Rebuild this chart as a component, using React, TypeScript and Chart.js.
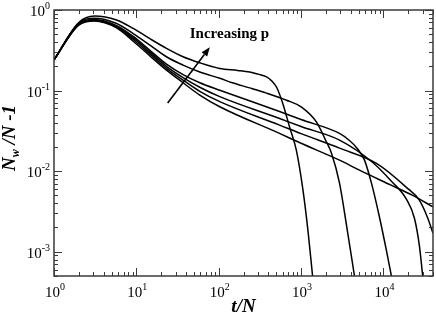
import React, { useEffect, useRef } from "react";
import { Chart, registerables } from "chart.js";

Chart.register(...registerables);

const X_MIN = 1;
const X_MAX = 40000;
const Y_MIN = 5e-4;
const Y_MAX = 1;

const X_MAJOR = [1, 10, 100, 1000, 10000];
const X_EXP = ["0", "1", "2", "3", "4"];
const Y_MAJOR = [1, 0.1, 0.01, 0.001];
const Y_EXP = ["0", "-1", "-2", "-3"];

const X_TITLE = "t/N";
const Y_TITLE_MAIN = "N";
const Y_TITLE_SUB = "w";
const Y_TITLE_REST = " /N -1";
const NOTE_TEXT = "Increasing p";
const NOTE_AT = [44.5, 0.45];
const ARROW_FROM = [24, 0.07];
const ARROW_TO = [78, 0.345];

const T_EARLY = [1, 2, 3.1, 5.75, 9.15, 14.6, 23.2, 36.9, 58.9, 103];

const T_A = [...T_EARLY, 170, 238, 300, 376, 440, 505, 597, 726, 876, 1055, 1218, 1380];
const Y_A = [0.24, 0.7, 0.84, 0.75, 0.59, 0.44, 0.334, 0.263, 0.221, 0.188,
  0.178, 0.17, 0.16, 0.149, 0.132, 0.11, 0.07, 0.0352, 0.0182, 0.0058, 0.00175, 0.0005];

const T_B = [...T_EARLY, 146, 238, 382, 665, 1013, 1541, 1982, 2342, 2930, 3564, 4450];
const Y_B = [0.24, 0.69, 0.79, 0.68, 0.51, 0.367, 0.263, 0.207, 0.17, 0.142,
  0.125, 0.108, 0.093, 0.076, 0.0624, 0.0406, 0.0243, 0.0167, 0.0071, 0.00213, 0.0005];

const T_C = [...T_EARLY, 548, 1000, 2930, 3870, 4840, 5890, 7160, 8950, 10870, 12500];
const Y_C = [0.24, 0.68, 0.76, 0.64, 0.47, 0.316, 0.213, 0.158, 0.125, 0.101,
  0.055, 0.0437, 0.0294, 0.024, 0.019, 0.0137, 0.0071, 0.0027, 0.00104, 0.0005];

const T_D = [...T_EARLY, 548, 1000, 2930, 7360, 12500, 19000, 23800, 27300, 30000];
const Y_D = [0.24, 0.67, 0.75, 0.62, 0.45, 0.3, 0.2, 0.145, 0.11, 0.084,
  0.045, 0.0358, 0.0243, 0.0129, 0.0075, 0.0045, 0.0026, 0.0012, 0.0005];

const T_E = [...T_EARLY, 548, 1000, 2930, 8230, 19000, 27300, 34200, 40000];
const Y_E = [0.24, 0.66, 0.74, 0.61, 0.43, 0.285, 0.189, 0.135, 0.098, 0.073,
  0.0373, 0.0292, 0.0193, 0.0125, 0.0063, 0.00436, 0.00268, 0.0017];

const T_F = [...T_EARLY, 548, 1000, 2930, 5117, 12400, 22650, 40000];
const Y_F = [0.24, 0.65, 0.73, 0.6, 0.41, 0.27, 0.179, 0.125, 0.088, 0.063,
  0.0294, 0.0222, 0.0137, 0.0103, 0.0067, 0.005, 0.0036];

const SERIES = [
  { t: T_A, y: Y_A },
  { t: T_B, y: Y_B },
  { t: T_C, y: Y_C },
  { t: T_D, y: Y_D },
  { t: T_E, y: Y_E },
  { t: T_F, y: Y_F },
];

const SERIF = '"Liberation Serif", "Times New Roman", serif';
const FRAME = "#3a3a3a";

function drawPow(ctx: CanvasRenderingContext2D, exp: string, x: number, y: number, align: "center" | "right") {
  ctx.font = `15px ${SERIF}`;
  const w1 = ctx.measureText("10").width;
  ctx.font = `10px ${SERIF}`;
  const w2 = ctx.measureText(exp).width;
  const total = w1 + w2;
  const start = align === "center" ? x - total / 2 + 1 : x - total;
  ctx.textAlign = "left";
  ctx.textBaseline = "alphabetic";
  ctx.font = `15px ${SERIF}`;
  ctx.fillText("10", start, y);
  ctx.font = `10px ${SERIF}`;
  ctx.fillText(exp, start + w1, y - 7);
}

const decorPlugin = {
  id: "decor",
  afterDatasetsDraw(chart: any) {
    const { ctx, chartArea: a, scales } = chart;
    const xs = scales.x;
    const ys = scales.y;
    ctx.save();
    ctx.fillStyle = "#000";
    ctx.strokeStyle = FRAME;
    ctx.lineWidth = 1.5;
    ctx.strokeRect(a.left, a.top, a.right - a.left, a.bottom - a.top);
    ctx.lineWidth = 1;
    ctx.beginPath();
    for (let e = 0; e <= 5; e++) {
      for (let k = 1; k <= 9; k++) {
        const v = k * Math.pow(10, e);
        if (v < X_MIN || v > X_MAX) continue;
        const px = Math.round(xs.getPixelForValue(v)) + 0.5;
        const len = k === 1 ? 8 : 4;
        ctx.moveTo(px, a.bottom);
        ctx.lineTo(px, a.bottom - len);
        ctx.moveTo(px, a.top);
        ctx.lineTo(px, a.top + len);
      }
    }
    for (let e = -4; e <= 0; e++) {
      for (let k = 1; k <= 9; k++) {
        const v = k * Math.pow(10, e);
        if (v < Y_MIN * 0.999 || v > Y_MAX * 1.001) continue;
        const py = Math.round(ys.getPixelForValue(v)) + 0.5;
        const len = k === 1 ? 8 : 4;
        ctx.moveTo(a.left, py);
        ctx.lineTo(a.left + len, py);
        ctx.moveTo(a.right, py);
        ctx.lineTo(a.right - len, py);
      }
    }
    ctx.stroke();

    X_MAJOR.forEach((v, i) => {
      drawPow(ctx, X_EXP[i], xs.getPixelForValue(v), a.bottom + 21, "center");
    });
    Y_MAJOR.forEach((v, i) => {
      drawPow(ctx, Y_EXP[i], a.left - 4, ys.getPixelForValue(v) + 6, "right");
    });

    ctx.font = `italic bold 19px ${SERIF}`;
    ctx.textAlign = "center";
    ctx.fillText(X_TITLE, (a.left + a.right) / 2, 312);

    ctx.save();
    ctx.translate(15, 138);
    ctx.rotate(-Math.PI / 2);
    ctx.textAlign = "left";
    const fMain = `italic bold 19px ${SERIF}`;
    const fSub = `italic bold 12px ${SERIF}`;
    ctx.font = fMain;
    const wN = ctx.measureText(Y_TITLE_MAIN).width;
    const wR = ctx.measureText(Y_TITLE_REST).width;
    ctx.font = fSub;
    const wS = ctx.measureText(Y_TITLE_SUB).width;
    let cx = -(wN + wS + wR) / 2;
    ctx.font = fMain;
    ctx.fillText(Y_TITLE_MAIN, cx, 0);
    cx += wN;
    ctx.font = fSub;
    ctx.fillText(Y_TITLE_SUB, cx, 4);
    cx += wS;
    ctx.font = fMain;
    ctx.fillText(Y_TITLE_REST, cx, 0);
    ctx.restore();

    ctx.font = `bold 15px ${SERIF}`;
    ctx.textAlign = "left";
    ctx.fillText(NOTE_TEXT, xs.getPixelForValue(NOTE_AT[0]), ys.getPixelForValue(NOTE_AT[1]));

    const x0 = xs.getPixelForValue(ARROW_FROM[0]);
    const y0 = ys.getPixelForValue(ARROW_FROM[1]);
    const x1 = xs.getPixelForValue(ARROW_TO[0]);
    const y1 = ys.getPixelForValue(ARROW_TO[1]);
    const ang = Math.atan2(y1 - y0, x1 - x0);
    const head = 9;
    const hw = 3.5;
    const bx = x1 - head * Math.cos(ang);
    const by = y1 - head * Math.sin(ang);
    ctx.strokeStyle = "#000";
    ctx.lineWidth = 1.6;
    ctx.beginPath();
    ctx.moveTo(x0, y0);
    ctx.lineTo(bx, by);
    ctx.stroke();
    ctx.beginPath();
    ctx.moveTo(x1, y1);
    ctx.lineTo(bx + hw * Math.sin(ang), by - hw * Math.cos(ang));
    ctx.lineTo(bx - hw * Math.sin(ang), by + hw * Math.cos(ang));
    ctx.closePath();
    ctx.fill();

    ctx.restore();
  },
};

export default function App() {
  const ref = useRef<HTMLCanvasElement | null>(null);
  useEffect(() => {
    document.body.style.margin = "0";
    const canvas = ref.current;
    if (!canvas) return;
    const chart = new Chart(canvas, {
      type: "line",
      data: {
        datasets: SERIES.map((s) => ({
          data: s.t.map((t, i) => ({ x: t, y: s.y[i] })),
          borderColor: "#000",
          borderWidth: 1.5,
          pointRadius: 0,
          cubicInterpolationMode: "monotone" as const,
          fill: false,
        })),
      },
      options: {
        animation: false,
        responsive: false,
        maintainAspectRatio: false,
        events: [],
        layout: { padding: { left: 54, right: 3, top: 10, bottom: 39 } },
        plugins: { legend: { display: false }, tooltip: { enabled: false } },
        scales: {
          x: { type: "logarithmic", min: X_MIN, max: X_MAX, display: false },
          y: { type: "logarithmic", min: Y_MIN, max: Y_MAX, display: false },
        },
      },
      plugins: [decorPlugin],
    } as any);
    return () => chart.destroy();
  }, []);
  return (
    <div style={{ width: 436, height: 315, background: "#fff" }}>
      <canvas ref={ref} width={436} height={315} style={{ display: "block" }} />
    </div>
  );
}
